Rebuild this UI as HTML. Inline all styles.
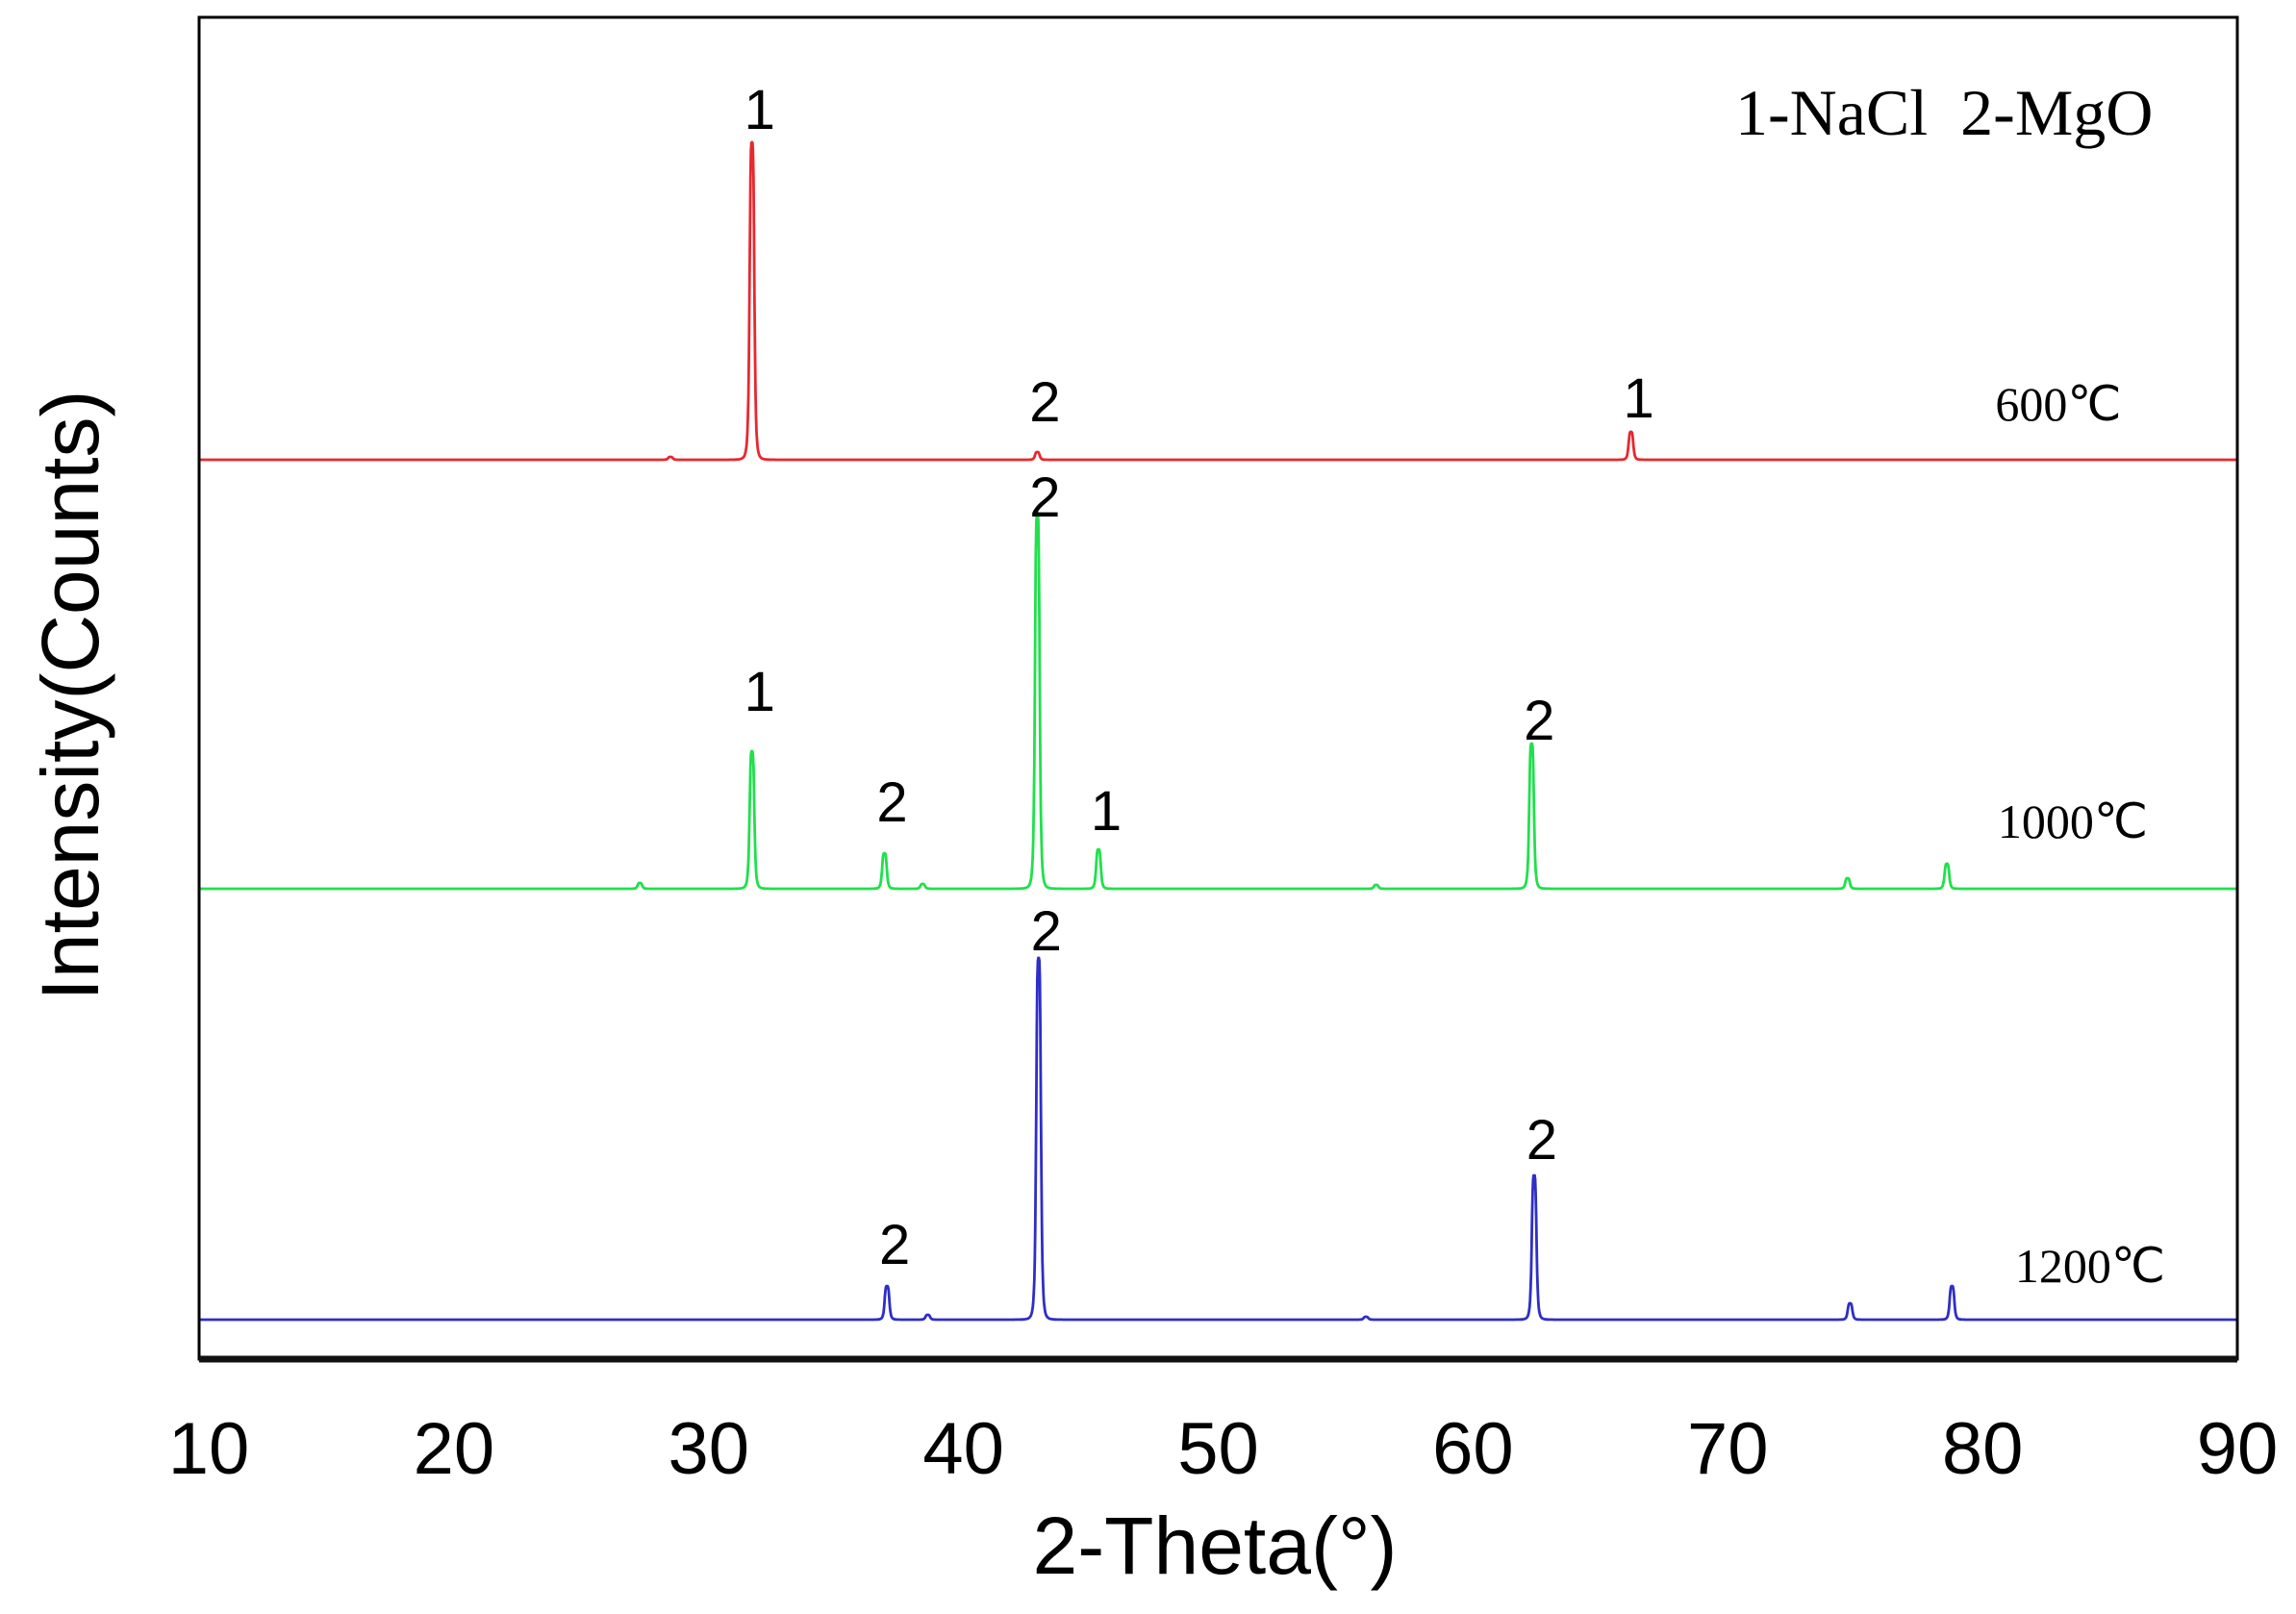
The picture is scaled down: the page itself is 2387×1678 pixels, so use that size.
<!DOCTYPE html>
<html><head><meta charset="utf-8"><style>
body{margin:0;background:#fff;}
svg{display:block;}
</style></head><body>
<svg id="chart" width="2387" height="1678" viewBox="0 0 2387 1678" xmlns="http://www.w3.org/2000/svg">
<rect width="2387" height="1678" fill="#fff"/>
<g id="series"></g>
<rect x="207" y="18" width="2119" height="1395" fill="none" stroke="#000" stroke-width="3"/>
<line x1="207" y1="1413" x2="2326" y2="1413" stroke="#111" stroke-width="7"/>
<g id="ticks" font-family="'Liberation Sans',sans-serif" font-size="76" fill="#000" text-anchor="middle"></g>
<text x="1263" y="1636" font-family="'Liberation Sans',sans-serif" font-size="84" text-anchor="middle">2-Theta(°)</text>
<text transform="translate(102,723) rotate(-90)" font-family="'Liberation Sans',sans-serif" font-size="84" text-anchor="middle">Intensity(Counts)</text>
<text x="1804" y="140" font-family="'Liberation Serif',serif" font-size="68">1-NaCl&#160;&#160;2-MgO</text>
<g id="labels"></g>
</svg>
<script>
const xTicks=[10,20,30,40,50,60,70,80,90];
const seriesNames=["600℃","1000℃","1200℃"];
const seriesColors=["#e8282e","#20e04c","#2e2ec8"];
const baselines=[0,-446,-894];
const peaks600=[31.7,42.9,66.2,28.5];
const heights600=[330,8,29,3];
const peaks1000=[31.7,36.9,42.9,45.3,62.3,74.7,78.6,27.3,56.2,38.4];
const heights1000=[143,37,391,41,151,11,26,6,4,5];
const peaks1200=[37.0,42.95,62.4,74.8,78.8,38.6,55.8];
const heights1200=[35,376,150,17,35,5,3];
const peakLabels600=[["1",31.7,344],["2",42.9,40],["1",66.2,44]];
const peakLabels1000=[["1",31.7,185],["2",36.9,70],["2",42.9,387],["1",45.3,61],["2",62.3,155]];
const peakLabels1200=[["2",37.0,58],["2",42.95,384],["2",62.4,167]];
const X0=207,X1=2326;
function xs(v){return X0+(v-10)/80*(X1-X0);}
const Y0=478;
function ys(c){return Y0-c;}
const allPeaks=[peaks600,peaks1000,peaks1200],allHeights=[heights600,heights1000,heights1200];
const allLabels=[peakLabels600,peakLabels1000,peakLabels1200];
const NS="http://www.w3.org/2000/svg";
const g=document.getElementById('series');
for(let s=0;s<3;s++){
  let d="";
  for(let t=10;t<=90.001;t+=0.02){
    let v=0;
    for(let k=0;k<allPeaks[s].length;k++){const w=0.1;const dx=(t-allPeaks[s][k])/w;v+=allHeights[s][k]/(1+dx*dx*dx*dx);}
    const y=ys(v+baselines[s]);
    d+=(d?"L":"M")+xs(t).toFixed(1)+" "+y.toFixed(1);
  }
  const p=document.createElementNS(NS,'path');
  p.setAttribute('d',d);p.setAttribute('fill','none');p.setAttribute('stroke',seriesColors[s]);p.setAttribute('stroke-width','2.8');
  
  
  g.appendChild(p);
  const lt=document.createElementNS(NS,'text');
  lt.setAttribute('x',[2140,2155,2173][s]);lt.setAttribute('y',ys(baselines[s])-[41,53,39][s]);
  lt.setAttribute('font-family',"'Liberation Serif',serif");lt.setAttribute('font-size','50');lt.setAttribute('text-anchor','middle');
  lt.textContent=seriesNames[s];
  
  
  document.getElementById('labels').appendChild(lt);
  for(const L of allLabels[s]){
    const t=document.createElementNS(NS,'text');
    t.setAttribute('x',xs(L[1])+8);t.setAttribute('y',ys(baselines[s]+L[2]));
    t.setAttribute('font-family',"'Liberation Sans',sans-serif");t.setAttribute('font-size','58');t.setAttribute('text-anchor','middle');
    t.textContent=L[0];
    
    
    document.getElementById('labels').appendChild(t);
  }
}
const tg=document.getElementById('ticks');
for(const v of xTicks){
  const t=document.createElementNS(NS,'text');
  t.setAttribute('x',xs(v)+(v===10?10:0));t.setAttribute('y',1532);
  t.textContent=v;
  
  
  tg.appendChild(t);
}
</script>
</body></html>
